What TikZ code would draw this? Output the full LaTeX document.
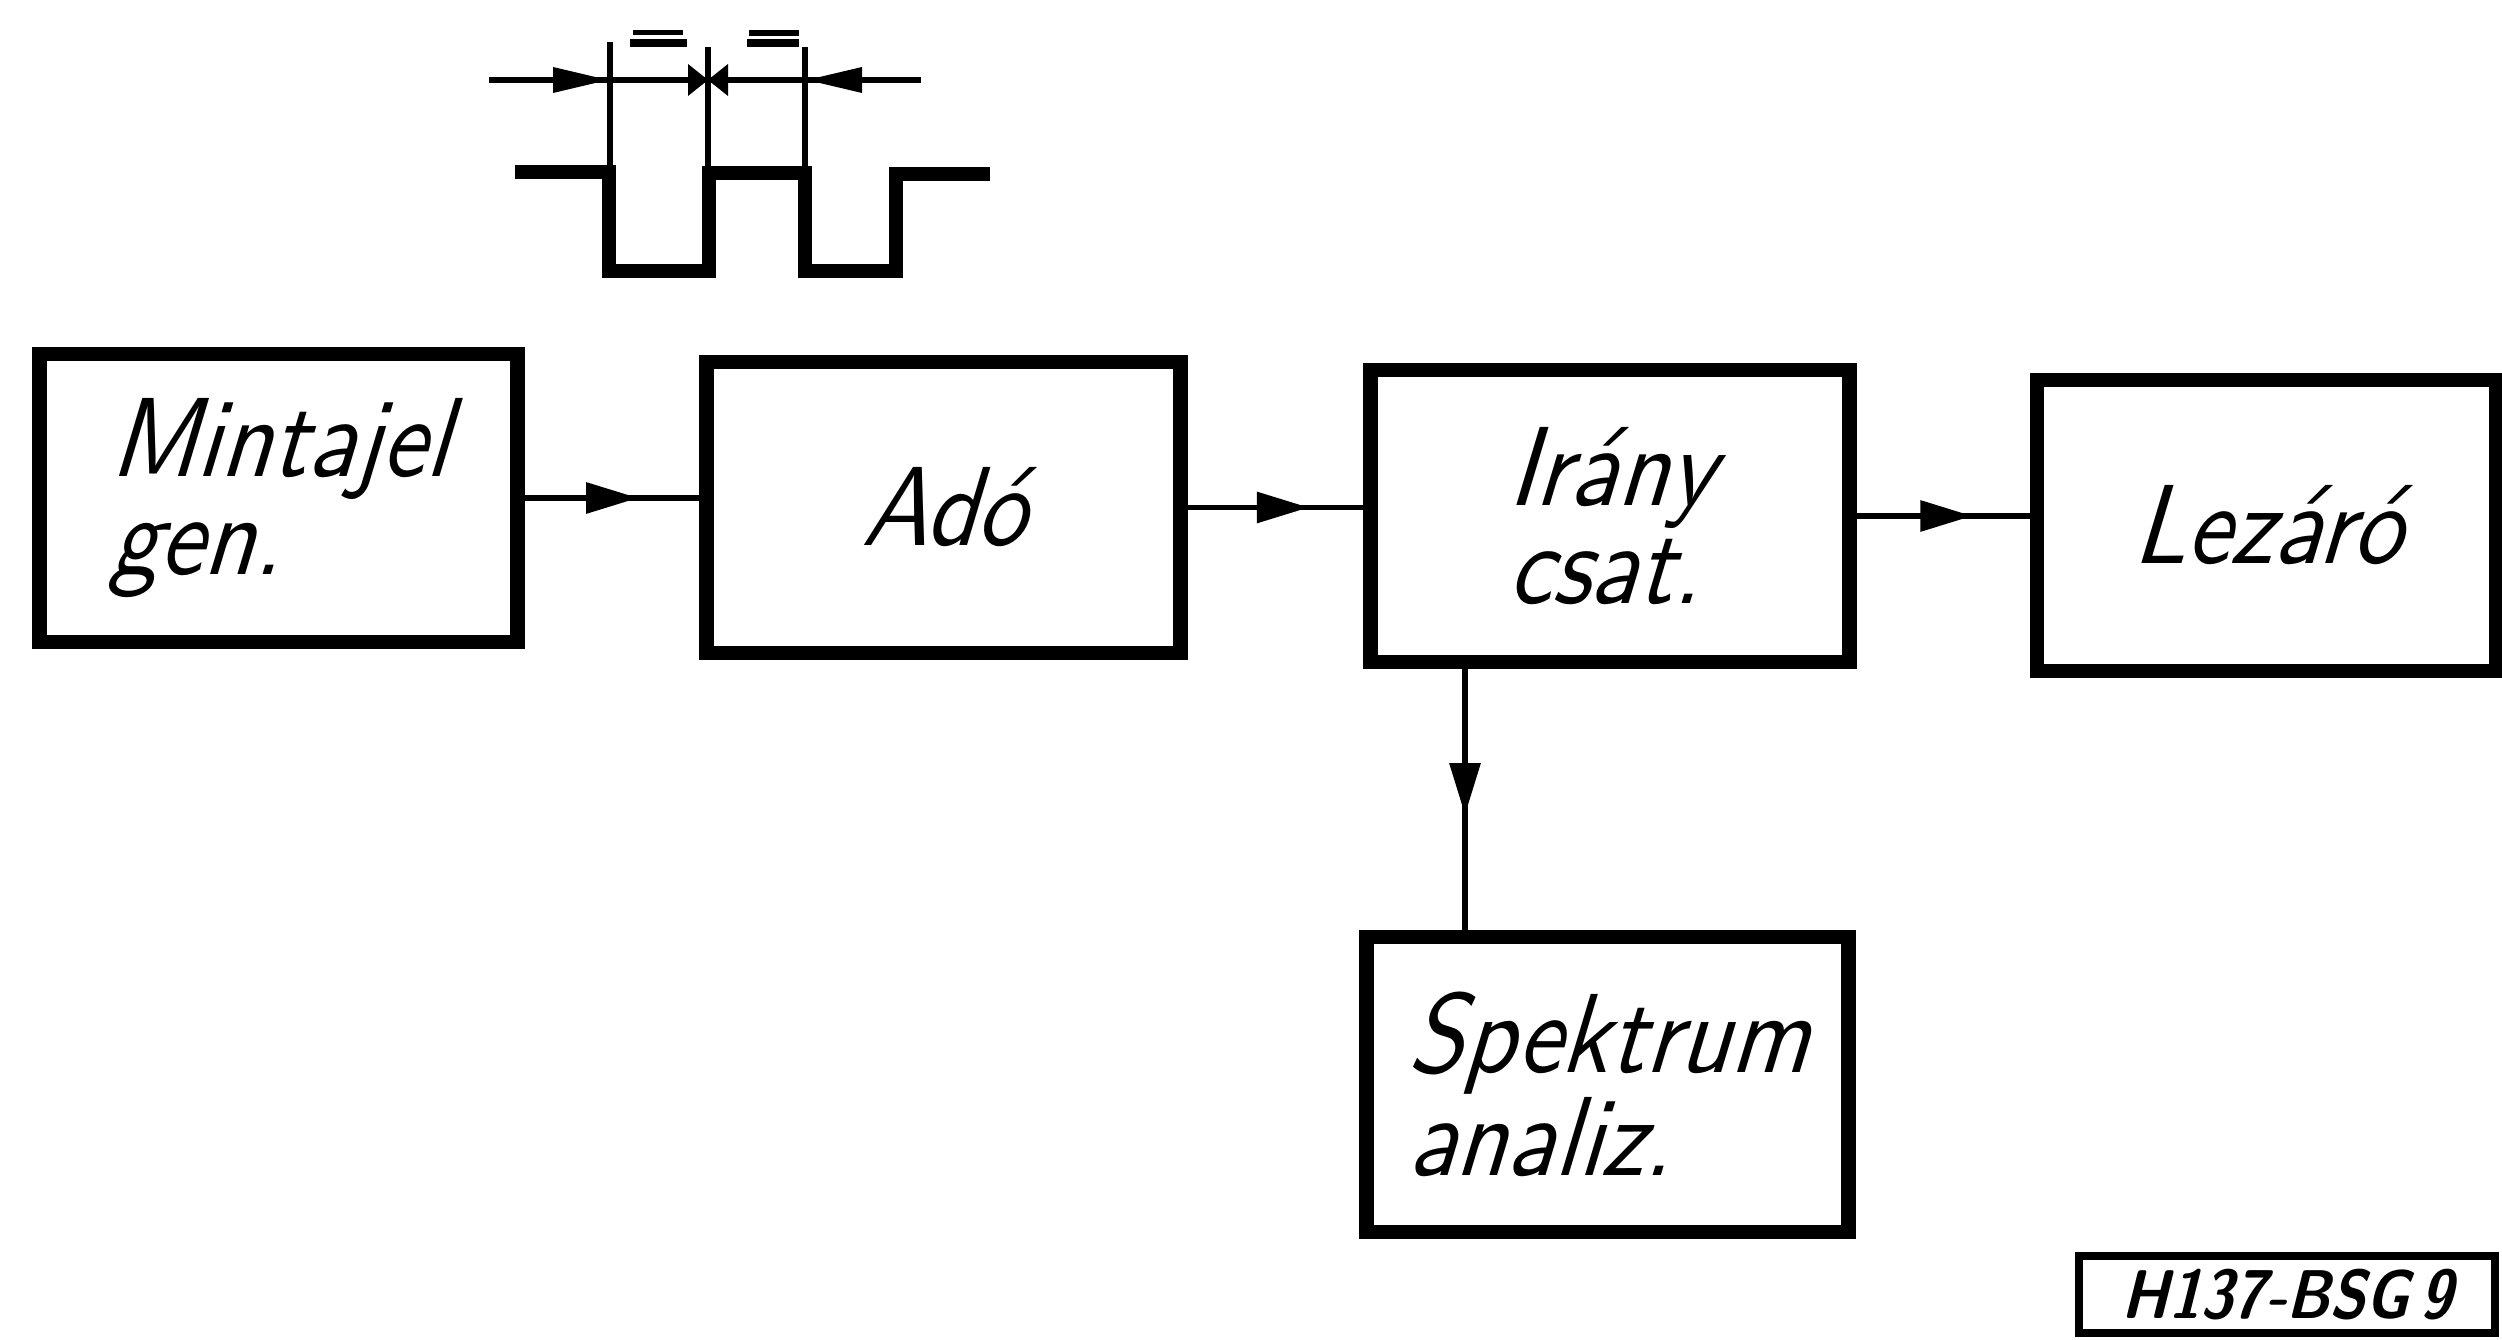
\documentclass[tikz,border=0pt]{standalone}
\usepackage{fontspec}
\usetikzlibrary{arrows.meta,decorations.markings}
\newfontfamily\techfont{lmsans10-regular}[Extension=.otf, FakeSlant=0.3, FakeStretch=0.88]
\newfontfamily\codefont{lmsans10-bold}[Extension=.otf, FakeSlant=0.25, FakeStretch=0.85]
\tikzset{
  blockbox/.style={draw, line width=4.2pt, inner sep=0pt, align=left,
    font=\techfont\fontsize{32}{28}\selectfont},
  flowline/.style={line width=1.7pt, postaction={decorate},
    decoration={markings, mark=at position #1 with {\arrow{Triangle[length=0.52cm,width=0.3cm]}}}},
  wave/.style={line width=4pt, line join=miter},
  dimline/.style={line width=1.5pt},
  codebox/.style={draw, line width=2.3pt, inner sep=0pt,
    font=\codefont\fontsize{19.6}{20}\selectfont}
}
\begin{document}
\begin{tikzpicture}[x=0.01cm, y=-0.01cm]
\useasboundingbox (0,0) rectangle (2502,1340);
\fill[white] (0,0) rectangle (2502,1340);

% blocks
\node[blockbox, minimum width=4.77cm, minimum height=2.88cm] (minta) at (278.5,498) {Mintajel\\gen.};
\node[blockbox, minimum width=4.73cm, minimum height=2.91cm] (ado) at (943.5,507.5) {Adó};
\node[blockbox, minimum width=4.78cm, minimum height=2.92cm] (irany) at (1610,516) {Irány\\csat.};
\node[blockbox, minimum width=4.59cm, minimum height=2.91cm] (lezaro) at (2266.5,525.5) {Lezáró};
\node[blockbox, minimum width=4.81cm, minimum height=2.95cm] (spek) at (1607.5,1084.5) {Spektrum\\analiz.};

% connectors
\draw[flowline=0.65] (minta.east) -- (ado.west |- minta.east);
\draw[flowline=0.69] (ado.east) -- (irany.west |- ado.east);
\draw[flowline=0.67] (irany.east) -- (lezaro.west |- irany.east);
\coordinate (tap) at (1465,800);
\draw[flowline=0.56] (irany.south -| tap) -- (spek.north -| tap);

% pulse waveform
\draw[wave] (515,172) -- (609,172) -- (609,271) -- (709,271) -- (709,173)
  -- (805,173) -- (805,271) -- (896,271) -- (896,174) -- (990,174);
% dimension lines
\draw[dimline] (489,80) -- (921,80);
\draw[dimline] (610,42) -- (610,172);
\draw[dimline] (708,47) -- (708,172);
\draw[dimline] (805,47) -- (805,172);
\fill (553,67) -- (608,80) -- (553,93) -- cycle;
\fill (688,64) -- (708,80) -- (688,96) -- cycle;
\fill (728,64) -- (708,80) -- (728,96) -- cycle;
\fill (862,67) -- (807,80) -- (862,93) -- cycle;
% dimension marks
\fill (633,30) rectangle (683,35);
\fill (630,39) rectangle (687,47);
\fill (749,30) rectangle (799,36);
\fill (747,39) rectangle (799,47);

% drawing code
\node[codebox, minimum width=4.16cm, minimum height=0.77cm] (code) at (2287,1294.5) {H137-BSG\,9};
\end{tikzpicture}
\end{document}
